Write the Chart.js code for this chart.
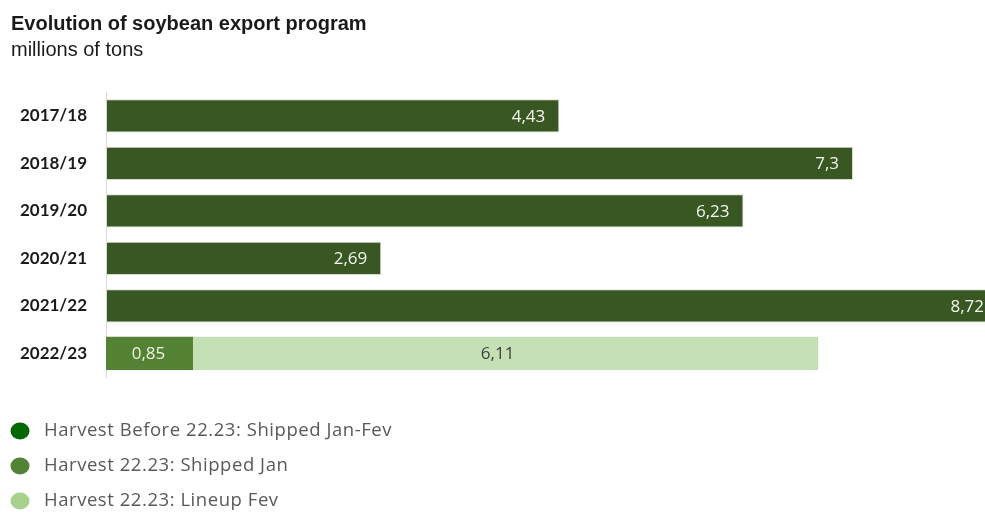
<!DOCTYPE html>
<html>
<head>
<meta charset="utf-8">
<script src="https://cdn.jsdelivr.net/npm/chart.js@4.4.1/dist/chart.umd.min.js"></script>
<style>
html,body{margin:0;padding:0;background:#fff;}
#wrap{width:985px;height:512px;position:relative;}
</style>
</head>
<body>
<div id="wrap"><canvas id="c" width="985" height="512"></canvas></div>
<script>
const categories = ["2017/18","2018/19","2019/20","2020/21","2021/22","2022/23"];
const beforeShipped = [4.43, 7.3, 6.23, 2.69, 8.72, null];
const shippedJan = [null, null, null, null, null, 0.85];
const lineupFev = [null, null, null, null, null, 6.11];
const seriesNames = ["Harvest Before 22.23: Shipped Jan-Fev","Harvest 22.23: Shipped Jan","Harvest 22.23: Lineup Fev"];
const barColors = ["#385723","#548235","#c5e0b4"];
const legendColors = ["#036803","#548235","#a9d18e"];
const labelColors = ["#f6f6f0","#eef3dc","#404040"];
const titleText = "Evolution of soybean export program";
const subtitleText = "millions of tons";

const fmt = v => String(v).replace('.', ',');

const valueLabels = {
  id: 'valueLabels',
  afterDatasetsDraw(chart) {
    const ctx = chart.ctx;
    const area = chart.chartArea;
    ctx.save();
    ctx.font = '17px "Open Sans"';
    ctx.textBaseline = 'middle';
    chart.data.datasets.forEach((ds, di) => {
      const meta = chart.getDatasetMeta(di);
      meta.data.forEach((bar, i) => {
        const v = ds.data[i];
        if (v == null) return;
        ctx.fillStyle = labelColors[di];
        if (di === 0) {
          ctx.textAlign = 'right';
          const xe = Math.min(bar.x, area.right + 13);
          ctx.fillText(fmt(v), xe - 14, bar.y + 1);
        } else {
          ctx.textAlign = 'center';
          ctx.fillText(fmt(v), (bar.x + bar.base) / 2 - (di === 2 ? 8 : 1), bar.y + 1);
        }
      });
    });
    ctx.restore();
  }
};

const customLegend = {
  id: 'customLegend',
  afterDraw(chart) {
    const ctx = chart.ctx;
    ctx.save();
    ctx.font = '18.5px "Open Sans"';
    try { ctx.letterSpacing = '0.55px'; } catch (e) {}
    ctx.textBaseline = 'middle';
    ctx.textAlign = 'left';
    const y0 = chart.chartArea.bottom + 54;
    seriesNames.forEach((name, i) => {
      const y = y0 + i * 35;
      ctx.fillStyle = legendColors[i];
      ctx.beginPath();
      ctx.ellipse(20, y, 9.5, 8.5, 0, 0, Math.PI * 2);
      ctx.fill();
      ctx.fillStyle = '#595959';
      ctx.fillText(name, 44, y);
    });
    ctx.restore();
  }
};

new Chart(document.getElementById('c'), {
  type: 'bar',
  data: {
    labels: categories,
    datasets: [
      { label: seriesNames[0], data: beforeShipped, backgroundColor: barColors[0], borderColor: '#d8dccf', borderWidth: 1, borderSkipped: false },
      { label: seriesNames[1], data: shippedJan, backgroundColor: barColors[1], borderWidth: 0 },
      { label: seriesNames[2], data: lineupFev, backgroundColor: barColors[2], borderWidth: 0 }
    ]
  },
  options: {
    indexAxis: 'y',
    responsive: false,
    animation: false,
    layout: { padding: { left: 11, right: 0, top: 0, bottom: 135 } },
    scales: {
      x: { stacked: true, display: false, min: 0, max: 8.59 },
      y: {
        stacked: true,
        grid: { display: false },
        border: { display: true, color: '#d9d9d9', width: 1 },
        ticks: { color: '#1a1a1a', font: { family: 'Lato', size: 17, weight: 'bold' }, padding: 11 },
        afterFit(scale) { scale.width = 95; }
      }
    },
    datasets: { bar: { barPercentage: 0.7, categoryPercentage: 1 } },
    plugins: {
      legend: { display: false },
      tooltip: { enabled: false },
      title: { display: true, text: titleText, align: 'start', color: '#1a1a1a', font: { family: 'Liberation Sans', size: 20, weight: 'bold' }, padding: { top: 12, bottom: 2 } },
      subtitle: { display: true, text: subtitleText, align: 'start', color: '#1a1a1a', font: { family: 'Liberation Sans', size: 20, weight: 'normal' }, padding: { top: 0, bottom: 30 } }
    }
  },
  plugins: [valueLabels, customLegend]
});
</script>
</body>
</html>
